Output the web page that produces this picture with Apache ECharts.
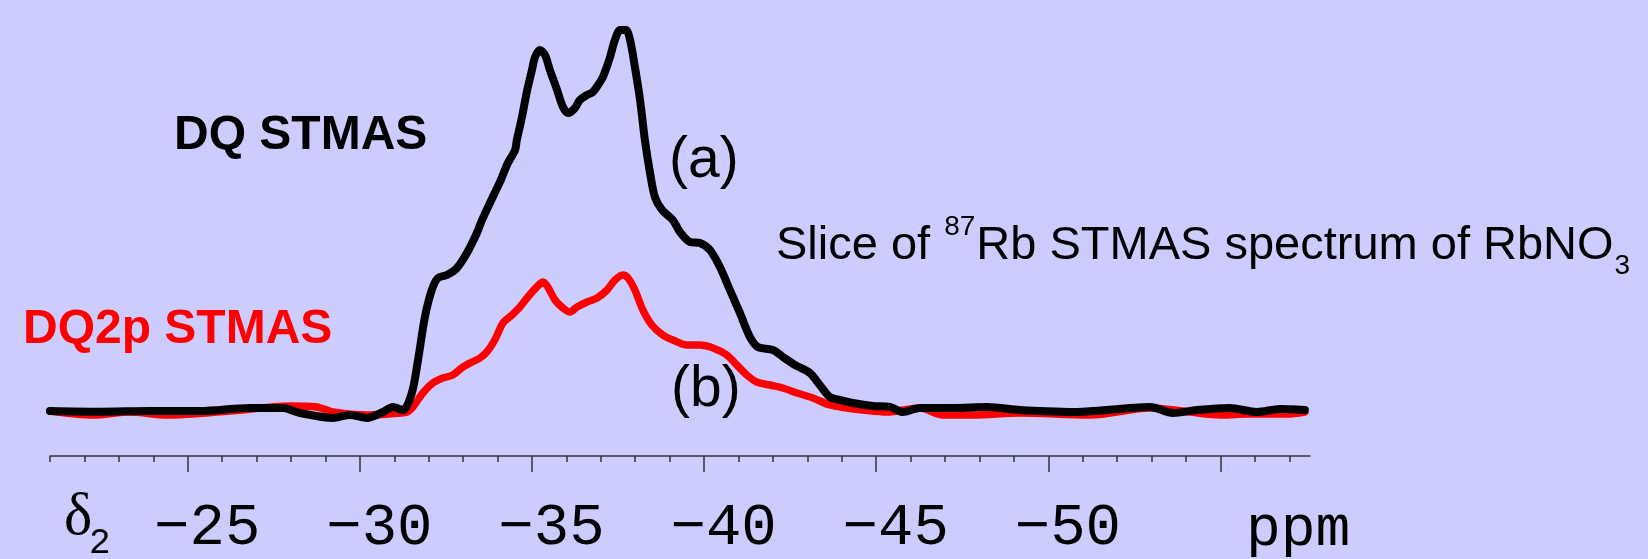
<!DOCTYPE html>
<html>
<head>
<meta charset="utf-8">
<script src="https://cdn.jsdelivr.net/npm/echarts@6/dist/echarts.min.js"></script>
<style>
  html, body { margin: 0; padding: 0; background: #ccccff; }
  #chart { width: 1648px; height: 559px; }
</style>
</head>
<body>
<div id="chart"></div>
<script>
// Chemical shift (ppm) and intensity of the DQ STMAS slice (a)
const ppmA = [
  -21.00,-22.45,-23.90,-25.36,-26.81,-27.77,-28.26,-29.22,-29.71,-30.21,
  -30.67,-30.96,-31.25,-31.51,-31.69,-31.89,-32.09,-32.27,-32.53,-32.82,
  -33.11,-33.40,-33.55,-33.78,-34.07,-34.30,-34.51,-34.56,-34.71,-34.85,
  -35.00,-35.09,-35.23,-35.38,-35.52,-35.73,-35.90,-36.05,-36.25,-36.39,
  -36.60,-36.77,-36.92,-37.06,-37.26,-37.41,-37.56,-37.73,-37.85,-37.99,
  -38.14,-38.28,-38.43,-38.57,-38.78,-39.09,-39.30,-39.59,-39.88,-40.17,
  -40.46,-40.75,-41.04,-41.33,-41.56,-42.00,-42.29,-42.64,-43.07,-43.36,
  -43.65,-43.94,-44.32,-44.90,-45.40,-45.77,-46.27,-47.23,-48.21,-49.17,
  -49.75,-50.71,-51.70,-52.95,-53.62,-54.31,-55.27,-56.06,-56.72,-57.45
];
const dqA = [
  -0.26,-0.45,-0.26,-0.26,0.53,0.53,-0.79,-2.10,-1.31,-2.10,
  -0.53,0.79,0.00,4.47,13.15,24.45,31.55,34.71,35.50,37.34,
  41.28,46.54,49.96,54.43,59.95,64.95,68.37,71.00,77.04,83.62,
  89.40,92.82,94.66,93.35,89.40,84.14,79.67,78.10,79.41,81.51,
  82.83,83.62,85.46,87.56,92.56,97.29,99.92,99.92,97.29,90.19,
  81.51,71.00,62.32,56.01,52.59,49.96,46.80,44.18,43.91,42.07,
  37.60,31.55,25.51,19.20,16.57,15.78,13.94,11.83,9.73,6.57,
  3.42,2.63,1.84,1.05,0.79,-0.53,0.53,0.53,0.79,0.00,
  -0.26,-0.53,0.00,0.79,-0.79,0.00,0.53,-0.53,0.26,0.00
];

// Chemical shift (ppm) and intensity of the DQ2p STMAS slice (b)
const ppmB = [
  -21.00,-22.25,-23.32,-24.40,-26.23,-27.97,-28.75,-29.22,-30.21,-31.17,
  -31.37,-31.54,-31.83,-32.12,-32.41,-32.70,-33.00,-33.26,-33.49,-33.69,
  -33.92,-34.16,-34.42,-34.65,-34.88,-35.14,-35.32,-35.46,-35.67,-35.90,
  -36.10,-36.31,-36.60,-36.89,-37.18,-37.41,-37.64,-37.79,-37.99,-38.22,
  -38.48,-38.80,-39.09,-39.50,-39.88,-40.26,-40.66,-40.95,-41.24,-41.53,
  -41.91,-42.29,-42.70,-43.16,-43.65,-44.15,-44.61,-45.31,-46.27,-46.94,
  -47.81,-49.17,-51.21,-52.95,-55.07,-55.77,-56.93,-57.45
];
const dq2pB = [
  -0.26,-1.31,-0.53,-1.31,-0.26,1.05,0.79,-0.53,-1.31,-0.79,
  -0.53,0.79,4.47,7.10,8.41,9.20,11.31,12.62,13.67,15.25,
  18.41,22.88,24.98,27.08,29.71,32.34,33.66,32.34,28.92,26.82,
  25.77,27.08,28.40,29.45,31.55,34.18,35.50,34.71,31.55,26.30,
  22.35,19.72,18.41,17.09,17.09,16.30,14.46,11.83,9.20,7.36,
  6.57,5.78,4.47,3.16,1.31,0.53,0.00,-0.53,0.53,-1.31,
  -1.31,-0.79,-1.31,0.53,-1.31,-1.05,-1.05,-0.53
];

// Axis ticks and labels
const majorTicks = [-25, -30, -35, -40, -45, -50, -55];
const minorTicks = [];
for (let v = -21; v >= -57; v--) minorTicks.push(v);
const labelValues = [-25, -30, -35, -40, -45, -50];
const tickLabels = ['\u221225', '\u221230', '\u221235', '\u221240', '\u221245', '\u221250'];

const ppmMin = -57.6, ppmMax = -21;
const BG = '#ccccff';

const pairs = (xs, ys) => xs.map((x, i) => [x, ys[i]]);

// Text helpers: place a string by its left edge and alphabetic baseline
const measureCtx = document.createElement('canvas').getContext('2d');
function textWidth(str, font) { measureCtx.font = font; return measureCtx.measureText(str).width; }
const SANS = '"Liberation Sans", Arial, sans-serif';
const MONO = '"Liberation Mono", "Courier New", monospace';
const SERIF = '"Liberation Serif", "Times New Roman", serif';
function txt(str, x, baseline, size, family, color, weight, mid, thin) {
  const style = {
    text: str, x: x, y: baseline - mid * size,
    fontSize: size, fontFamily: family, fontWeight: weight || 'normal',
    fill: color, align: 'left', verticalAlign: 'middle'
  };
  if (thin) { style.stroke = BG; style.lineWidth = thin; }
  return { type: 'text', silent: true, style: style };
}
const MID_SANS = 0.3465, MID_MONO = 0.2665, MID_SERIF = 0.3375;

// Slice caption with superscript mass number and subscript
const capSize = 47, supSize = 28;
const capX = 776, capBase = 262;
const w1 = textWidth('Slice of ', capSize + 'px ' + SANS);
const wSup = textWidth('87', supSize + 'px ' + SANS);
const w2 = textWidth('Rb STMAS spectrum of RbNO', capSize + 'px ' + SANS);

const graphics = [
  txt('DQ STMAS', 174, 152, 48, SANS, '#000000', 'bold', MID_SANS),
  txt('DQ2p STMAS', 23, 346, 48, SANS, '#ff0000', 'bold', MID_SANS),
  txt('(a)', 669, 181, 57, SANS, '#000000', 'normal', MID_SANS),
  txt('(b)', 671, 410, 57, SANS, '#000000', 'normal', MID_SANS),
  txt('Slice of ', capX, capBase, capSize, SANS, '#000000', 'normal', MID_SANS),
  txt('87', capX + w1 + 1, capBase - 25, supSize, SANS, '#000000', 'normal', MID_SANS),
  txt('Rb STMAS spectrum of RbNO', capX + w1 + wSup + 2, capBase, capSize, SANS, '#000000', 'normal', MID_SANS),
  txt('3', capX + w1 + wSup + w2 + 3, capBase + 14, supSize, SANS, '#000000', 'normal', MID_SANS),
  txt('\u03b4', 64, 538, 60, SERIF, '#000000', 'normal', MID_SERIF),
  txt('2', 89, 553, 36, MONO, '#000000', 'normal', MID_MONO, 1.6),
  txt('ppm', 1246, 545, 58, MONO, '#000000', 'normal', MID_MONO, 2.2)
];

const chart = echarts.init(document.getElementById('chart'), null, { renderer: 'canvas' });
chart.setOption({
  animation: false,
  backgroundColor: BG,
  grid: { left: 50, right: 338, top: 0, bottom: 103, containLabel: false, outerBoundsMode: 'none' },
  xAxis: [
    {
      type: 'value', min: ppmMin, max: ppmMax, inverse: true, position: 'bottom',
      axisLine: { show: true, onZero: false, lineStyle: { color: '#333333', width: 1.5 } },
      axisTick: { show: true, customValues: majorTicks, length: 16, lineStyle: { color: '#333333', width: 1.5 } },
      axisLabel: {
        show: true, customValues: labelValues, margin: 43,
        formatter: v => tickLabels[labelValues.indexOf(v)] || '',
        fontFamily: MONO, fontSize: 59, color: '#000000',
        textBorderColor: BG, textBorderWidth: 2.2,
        padding: [0, 0, 0, 39]
      },
      splitLine: { show: false }
    },
    {
      type: 'value', min: ppmMin, max: ppmMax, inverse: true, position: 'bottom', offset: 0,
      axisLine: { show: false, onZero: false },
      axisTick: { show: true, customValues: minorTicks, length: 6, lineStyle: { color: '#333333', width: 1.5 } },
      axisLabel: { show: false },
      splitLine: { show: false }
    }
  ],
  yAxis: { type: 'value', min: -12.1, max: 107.8, show: false, splitLine: { show: false } },
  series: [
    {
      name: 'DQ2p STMAS', type: 'line', xAxisIndex: 0, data: pairs(ppmB, dq2pB),
      showSymbol: false, smooth: 0.3,
      lineStyle: { color: '#ff0000', width: 7.5, cap: 'round', join: 'round' }
    },
    {
      name: 'DQ STMAS', type: 'line', xAxisIndex: 0, data: pairs(ppmA, dqA),
      showSymbol: false, smooth: 0.3,
      lineStyle: { color: '#000000', width: 8, cap: 'round', join: 'round' }
    }
  ],
  graphic: graphics
});
</script>
</body>
</html>
